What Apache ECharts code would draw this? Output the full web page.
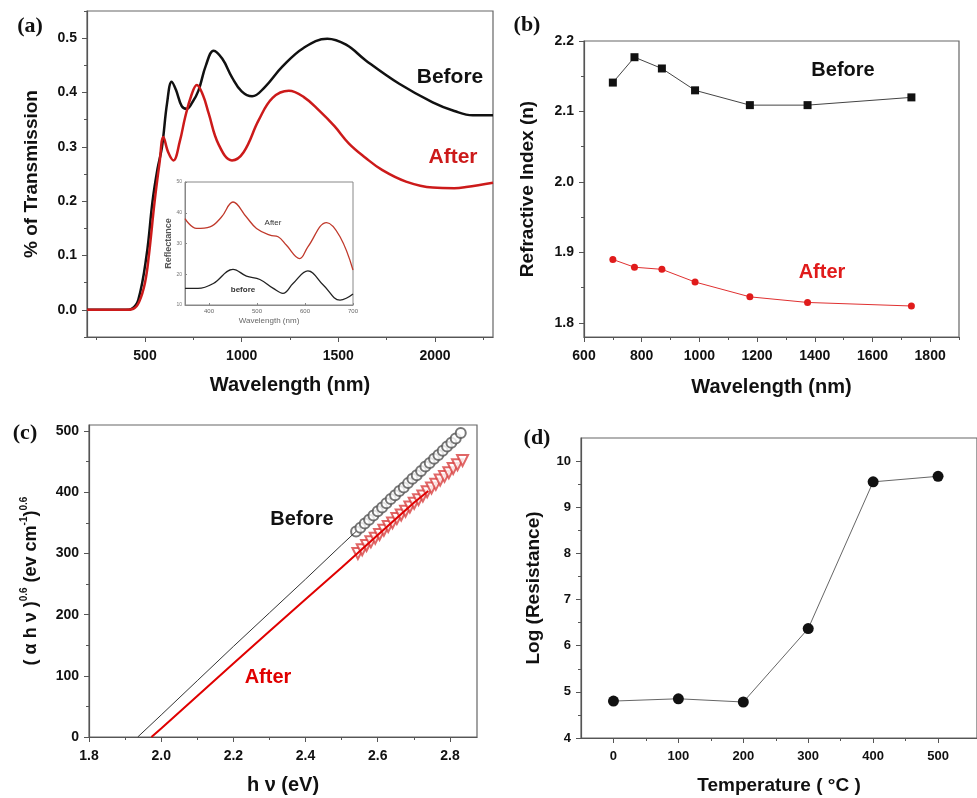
<!DOCTYPE html>
<html>
<head>
<meta charset="utf-8">
<script src="https://cdn.jsdelivr.net/npm/echarts@6/dist/echarts.min.js"></script>
<style>
  html, body { margin: 0; padding: 0; background: #fff; }
  #main { width: 977px; height: 798px; }
</style>
</head>
<body>
<div id="main"></div>
<script>
// (a) transmission
const aBeforeWl = [200, 300, 400, 431, 465, 508, 539, 565, 588, 614, 638, 660, 690, 716, 745, 777, 815, 855, 900, 950, 1000, 1054, 1120, 1209, 1320, 1443, 1540, 1642, 1815, 1988, 2100, 2195, 2300];
const aBeforeT = [0, 0, 0, 0.002, 0.018, 0.1, 0.2, 0.26, 0.3, 0.38, 0.42, 0.405, 0.375, 0.37, 0.382, 0.404, 0.45, 0.477, 0.462, 0.428, 0.402, 0.393, 0.41, 0.447, 0.482, 0.499, 0.488, 0.459, 0.416, 0.382, 0.366, 0.358, 0.358];
const aAfterWl = [200, 300, 400, 440, 470, 500, 520, 550, 575, 595, 620, 647, 680, 708, 740, 768, 800, 829, 880, 950, 1010, 1088, 1160, 1244, 1320, 1400, 1480, 1555, 1640, 1728, 1850, 1988, 2100, 2161, 2300];
const aAfterT = [0, 0, 0, 0.002, 0.015, 0.05, 0.1, 0.2, 0.27, 0.318, 0.29, 0.275, 0.31, 0.355, 0.395, 0.414, 0.395, 0.362, 0.305, 0.275, 0.29, 0.349, 0.39, 0.403, 0.392, 0.367, 0.338, 0.306, 0.28, 0.257, 0.236, 0.225, 0.224, 0.226, 0.234];
const aXTicks = [500, 1000, 1500, 2000];
const aXMinor = [250, 750, 1250, 1750, 2250];
const aYTicks = [0, 0.1, 0.2, 0.3, 0.4, 0.5];
const aYMinor = [-0.05, 0.05, 0.15, 0.25, 0.35, 0.45, 0.55];

// inset reflectance
const insetAfterWl = [350, 374, 402, 426, 450, 478, 499, 527, 544, 561, 589, 606, 645, 673, 700];
const insetAfter = [38.1, 34.9, 35.4, 38.6, 43.5, 38.6, 34.9, 32.7, 32.2, 29.5, 25.1, 28.9, 36.8, 32.2, 21.4];
const insetBeforeWl = [350, 377, 409, 450, 478, 506, 534, 554, 575, 606, 638, 673, 686, 700];
const insetBefore = [15.4, 15.4, 17.0, 21.6, 19.4, 18.3, 15.4, 13.8, 17.0, 21.1, 16.5, 11.6, 12.2, 13.6];
const insetXTicks = [400, 500, 600, 700];
const insetYTicks = [10, 20, 30, 40, 50];

// (b) refractive index
const bWl = [700, 775, 870, 985, 1175, 1375, 1735];
const bBefore = [2.141, 2.177, 2.161, 2.130, 2.109, 2.109, 2.120];
const bAfter = [1.890, 1.879, 1.876, 1.858, 1.837, 1.829, 1.824];
const bXTicks = [600, 800, 1000, 1200, 1400, 1600, 1800];
const bXMinor = [700, 900, 1100, 1300, 1500, 1700, 1900];
const bYTicks = [1.8, 1.9, 2.0, 2.1, 2.2];
const bYMinor = [1.85, 1.95, 2.05, 2.15];

// (c) Tauc plot
const cBeforeLineX = [1.935, 2.0, 2.1, 2.2, 2.3, 2.4, 2.5, 2.54];
const cBeforeLineY = [0, 36, 92, 148, 203, 258, 314, 336];
const cAfterLineX = [1.973, 2.0, 2.1, 2.2, 2.3, 2.4, 2.5, 2.6, 2.7, 2.74];
const cAfterLineY = [0, 14, 67, 120, 173, 225, 277, 330, 383, 402];
const cBeforePtsX = [2.540, 2.552, 2.564, 2.576, 2.588, 2.600, 2.612, 2.624, 2.636, 2.648, 2.660, 2.672, 2.684, 2.696, 2.708, 2.720, 2.732, 2.744, 2.756, 2.768, 2.780, 2.792, 2.804, 2.816, 2.830];
const cBeforePtsY = [336, 342, 349, 355, 362, 369, 375, 382, 389, 395, 402, 408, 415, 422, 428, 435, 442, 448, 455, 461, 468, 475, 481, 488, 497];
const cAfterPtsX = [2.545, 2.557, 2.569, 2.581, 2.593, 2.605, 2.617, 2.629, 2.641, 2.653, 2.665, 2.677, 2.689, 2.701, 2.713, 2.725, 2.737, 2.749, 2.761, 2.773, 2.785, 2.797, 2.809, 2.821, 2.835];
const cAfterPtsY = [300, 306, 313, 319, 325, 331, 338, 344, 350, 357, 363, 369, 376, 382, 388, 394, 401, 407, 413, 420, 426, 432, 439, 445, 452];
const cXTicks = [1.8, 2.0, 2.2, 2.4, 2.6, 2.8];
const cXMinor = [1.9, 2.1, 2.3, 2.5, 2.7];
const cYTicks = [0, 100, 200, 300, 400, 500];
const cYMinor = [50, 150, 250, 350, 450];

// (d) resistance
const dTemp = [0, 100, 200, 300, 400, 500];
const dLogR = [4.80, 4.85, 4.78, 6.37, 9.55, 9.67];
const dXTicks = [0, 100, 200, 300, 400, 500];
const dXMinor = [50, 150, 250, 350, 450];
const dYTicks = [4, 5, 6, 7, 8, 9, 10];
const dYMinor = [4.5, 5.5, 6.5, 7.5, 8.5, 9.5];

const pairs = (xs, ys) => xs.map((x, i) => [x, ys[i]]);

const FONT = 'Liberation Sans';
const BLACK = '#111';
const RED = '#cc1a1a';
const AXIS = '#555';

const f1 = v => v.toFixed(1);
const f0 = v => String(Math.round(v));

function majorAxis(dim, grid, min, max, ticks, fmt, name, nameGap, opts) {
  opts = opts || {};
  return {
    type: 'value', gridIndex: grid, min: min, max: max,
    position: dim === 'x' ? 'bottom' : 'left',
    name: name, nameLocation: 'middle', nameGap: nameGap,
    nameTextStyle: Object.assign({ fontFamily: FONT, fontWeight: 'bold', fontSize: 20, color: BLACK }, opts.nameStyle || {}),
    axisLine: { show: true, onZero: false, lineStyle: { color: AXIS, width: 1.2 } },
    axisTick: { show: true, length: 5, customValues: ticks, lineStyle: { color: AXIS } },
    axisLabel: { customValues: ticks, formatter: fmt, fontFamily: FONT, fontWeight: 'bold',
      fontSize: opts.labelSize || 14, color: BLACK, margin: dim === 'x' ? 12 : 10 },
    splitLine: { show: false }
  };
}
function minorAxis(dim, grid, min, max, ticks) {
  return {
    type: 'value', gridIndex: grid, min: min, max: max,
    position: dim === 'x' ? 'bottom' : 'left',
    axisLine: { show: false, onZero: false },
    axisTick: { show: true, length: 3, customValues: ticks, lineStyle: { color: AXIS } },
    axisLabel: { show: false },
    splitLine: { show: false }
  };
}

const gridStyle = { show: true, borderColor: '#666', borderWidth: 1.2, backgroundColor: '#fff' };

const option = {
  animation: false,
  backgroundColor: '#fff',
  grid: [
    Object.assign({ left: 87, top: 11, width: 406, height: 326 }, gridStyle),
    Object.assign({ left: 584, top: 41, width: 375, height: 296 }, gridStyle),
    Object.assign({ left: 89, top: 425, width: 388, height: 312 }, gridStyle),
    Object.assign({ left: 581, top: 438, width: 410, height: 300 }, gridStyle),
    Object.assign({ left: 185, top: 182, width: 168, height: 123 }, gridStyle, { borderColor: '#888', borderWidth: 1 })
  ],
  xAxis: [
    majorAxis('x', 0, 200, 2300, aXTicks, f0, 'Wavelength (nm)', 38),
    majorAxis('x', 1, 600, 1900, bXTicks, f0, 'Wavelength (nm)', 40),
    majorAxis('x', 2, 1.8, 2.875, cXTicks, f1, 'h ν (eV)', 38),
    majorAxis('x', 3, -50, 560, dXTicks, f0, 'Temperature ( °C )', 38, { labelSize: 13, nameStyle: { fontSize: 19 } }),
    {
      type: 'value', gridIndex: 4, min: 350, max: 700, position: 'bottom',
      name: 'Wavelength (nm)', nameLocation: 'middle', nameGap: 12,
      nameTextStyle: { fontFamily: FONT, fontSize: 8, color: '#666' },
      axisLine: { show: true, onZero: false, lineStyle: { color: '#888' } },
      axisTick: { show: true, inside: true, length: 2, customValues: insetXTicks, lineStyle: { color: '#888' } },
      axisLabel: { customValues: insetXTicks, formatter: f0, fontFamily: FONT, fontSize: 6, color: '#666', margin: 3 },
      splitLine: { show: false }
    },
    minorAxis('x', 0, 200, 2300, aXMinor),
    minorAxis('x', 1, 600, 1900, bXMinor),
    minorAxis('x', 2, 1.8, 2.875, cXMinor),
    minorAxis('x', 3, -50, 560, dXMinor)
  ],
  yAxis: [
    majorAxis('y', 0, -0.05, 0.55, aYTicks, f1, '% of Transmission', 46, { nameStyle: { fontSize: 19 } }),
    majorAxis('y', 1, 1.78, 2.2, bYTicks, f1, 'Refractive Index (n)', 47, { nameStyle: { fontSize: 19 } }),
    majorAxis('y', 2, 0, 510, cYTicks, f0, '( α h ν ){s|0.6} (ev cm{s|-1}){s|0.6}', 46, {
      nameStyle: {
        fontSize: 18, lineHeight: 24,
        rich: { s: { fontFamily: FONT, fontWeight: 'bold', fontSize: 10, color: BLACK, verticalAlign: 'top', lineHeight: 24, padding: [0, 0, 10, 0] } }
      }
    }),
    majorAxis('y', 3, 4, 10.5, dYTicks, f0, 'Log (Resistance)', 38, { labelSize: 13, nameStyle: { fontSize: 19 } }),
    {
      type: 'value', gridIndex: 4, min: 10, max: 50, position: 'left',
      name: 'Reflectance', nameLocation: 'middle', nameGap: 10,
      nameTextStyle: { fontFamily: FONT, fontWeight: 'bold', fontSize: 9, color: '#555' },
      axisLine: { show: true, onZero: false, lineStyle: { color: '#888' } },
      axisTick: { show: true, inside: true, length: 2, customValues: insetYTicks, lineStyle: { color: '#888' } },
      axisLabel: { customValues: insetYTicks, formatter: f0, fontFamily: FONT, fontSize: 5, color: '#777', margin: 3 },
      splitLine: { show: false }
    },
    minorAxis('y', 0, -0.05, 0.55, aYMinor),
    minorAxis('y', 1, 1.78, 2.2, bYMinor),
    minorAxis('y', 2, 0, 510, cYMinor),
    minorAxis('y', 3, 4, 10.5, dYMinor)
  ],
  series: [
    // (a)
    { type: 'line', xAxisIndex: 0, yAxisIndex: 0, data: pairs(aBeforeWl, aBeforeT), smooth: 0.4, showSymbol: false,
      lineStyle: { color: BLACK, width: 2.5 } },
    { type: 'line', xAxisIndex: 0, yAxisIndex: 0, data: pairs(aAfterWl, aAfterT), smooth: 0.4, showSymbol: false,
      lineStyle: { color: RED, width: 2.5 } },
    // inset
    { type: 'line', xAxisIndex: 4, yAxisIndex: 4, data: pairs(insetAfterWl, insetAfter), smooth: 0.4, showSymbol: false,
      lineStyle: { color: '#c0392b', width: 1.3 } },
    { type: 'line', xAxisIndex: 4, yAxisIndex: 4, data: pairs(insetBeforeWl, insetBefore), smooth: 0.4, showSymbol: false,
      lineStyle: { color: '#222', width: 1.3 } },
    // (b)
    { type: 'line', xAxisIndex: 1, yAxisIndex: 1, data: pairs(bWl, bBefore), symbol: 'rect', symbolSize: 8,
      itemStyle: { color: BLACK }, lineStyle: { color: '#444', width: 1 } },
    { type: 'line', xAxisIndex: 1, yAxisIndex: 1, data: pairs(bWl, bAfter), symbol: 'circle', symbolSize: 7,
      itemStyle: { color: '#e01b1b' }, lineStyle: { color: '#e03030', width: 1 } },
    // (c)
    { type: 'line', xAxisIndex: 2, yAxisIndex: 2, data: pairs(cBeforeLineX, cBeforeLineY), showSymbol: false,
      lineStyle: { color: '#333', width: 1 } },
    { type: 'scatter', xAxisIndex: 2, yAxisIndex: 2, data: pairs(cBeforePtsX, cBeforePtsY), symbol: 'emptyCircle', symbolSize: 10,
      itemStyle: { color: '#555', borderWidth: 0.8 } },
    { type: 'scatter', xAxisIndex: 2, yAxisIndex: 2, data: pairs(cAfterPtsX, cAfterPtsY), symbol: 'emptyTriangle', symbolSize: 11, symbolRotate: 180,
      itemStyle: { color: '#d84040', borderWidth: 0.8 } },
    { type: 'line', xAxisIndex: 2, yAxisIndex: 2, data: pairs(cAfterLineX, cAfterLineY), showSymbol: false,
      lineStyle: { color: '#e00000', width: 2 } },
    // (d)
    { type: 'line', xAxisIndex: 3, yAxisIndex: 3, data: pairs(dTemp, dLogR), symbol: 'circle', symbolSize: 11,
      itemStyle: { color: BLACK }, lineStyle: { color: '#666', width: 1 } }
  ],
  graphic: [
    { type: 'text', x: 30, y: 26, style: { text: '(a)', font: 'bold 22px "Liberation Serif"', fill: BLACK, textAlign: 'center', textVerticalAlign: 'middle' } },
    { type: 'text', x: 450, y: 77, style: { text: 'Before', font: 'bold 21px "Liberation Sans"', fill: BLACK, textAlign: 'center', textVerticalAlign: 'middle' } },
    { type: 'text', x: 453, y: 157, style: { text: 'After', font: 'bold 21px "Liberation Sans"', fill: RED, textAlign: 'center', textVerticalAlign: 'middle' } },
    { type: 'text', x: 273, y: 223, style: { text: 'After', font: '8px "Liberation Sans"', fill: '#333', textAlign: 'center', textVerticalAlign: 'middle' } },
    { type: 'text', x: 243, y: 290, style: { text: 'before', font: 'bold 8px "Liberation Sans"', fill: '#333', textAlign: 'center', textVerticalAlign: 'middle' } },
    { type: 'text', x: 527, y: 25, style: { text: '(b)', font: 'bold 22px "Liberation Serif"', fill: BLACK, textAlign: 'center', textVerticalAlign: 'middle' } },
    { type: 'text', x: 843, y: 70, style: { text: 'Before', font: 'bold 20px "Liberation Sans"', fill: BLACK, textAlign: 'center', textVerticalAlign: 'middle' } },
    { type: 'text', x: 822, y: 272, style: { text: 'After', font: 'bold 20px "Liberation Sans"', fill: '#e01b1b', textAlign: 'center', textVerticalAlign: 'middle' } },
    { type: 'text', x: 25, y: 433, style: { text: '(c)', font: 'bold 22px "Liberation Serif"', fill: BLACK, textAlign: 'center', textVerticalAlign: 'middle' } },
    { type: 'text', x: 302, y: 519, style: { text: 'Before', font: 'bold 20px "Liberation Sans"', fill: BLACK, textAlign: 'center', textVerticalAlign: 'middle' } },
    { type: 'text', x: 268, y: 677, style: { text: 'After', font: 'bold 20px "Liberation Sans"', fill: '#e00000', textAlign: 'center', textVerticalAlign: 'middle' } },
    { type: 'text', x: 537, y: 438, style: { text: '(d)', font: 'bold 22px "Liberation Serif"', fill: BLACK, textAlign: 'center', textVerticalAlign: 'middle' } }
  ]
};

const chart = echarts.init(document.getElementById('main'));
chart.setOption(option);
</script>
</body>
</html>
